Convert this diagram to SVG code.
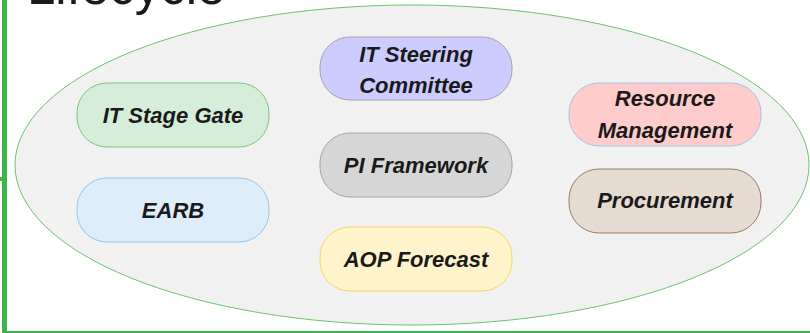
<svg xmlns="http://www.w3.org/2000/svg" width="810" height="333" viewBox="0 0 810 333">
<style>
.node rect{stroke-width:1}
.lbl{font-family:"Liberation Sans",Arial,sans-serif;font-weight:bold;font-style:italic;font-size:22px;fill:#1a1a1a;text-anchor:middle}
</style>
<rect width="810" height="333" fill="#ffffff"/>
<g id="frame">
<rect x="2" y="0" width="5" height="333" fill="#3cb44b"/>
<rect x="2" y="331" width="808" height="2" fill="#3cb44b"/>
<rect x="0" y="177" width="3" height="4" fill="#3cb44b"/>
<text x="27" y="4" font-family="Liberation Sans,Arial,sans-serif" font-size="51" fill="#1a1a1a">Lifecycle</text>
</g>
<g id="lifecycle-ellipse">
<ellipse cx="412" cy="165" rx="397" ry="160" fill="#f1f1f1" stroke="#6cc46c" stroke-width="1"/>
</g>
<g id="connectors"></g>
<g id="it-steering" class="node">
<rect x="320" y="37" width="192" height="63" rx="30" fill="#ccccff" stroke="#a6a6a6"/>
<text class="lbl" x="416" y="62">IT Steering</text>
<text class="lbl" x="416" y="93">Committee</text>
</g>
<g id="it-stage-gate" class="node">
<rect x="77" y="83" width="192" height="64" rx="30" fill="#d5eed9" stroke="#7cc67f"/>
<text class="lbl" x="173" y="123">IT Stage Gate</text>
</g>
<g id="earb" class="node">
<rect x="77" y="178" width="192" height="64" rx="30" fill="#deedfa" stroke="#92c6ee"/>
<text class="lbl" x="173" y="218">EARB</text>
</g>
<g id="pi-framework" class="node">
<rect x="320" y="133" width="192" height="64" rx="30" fill="#d6d6d6" stroke="#a6a6a6"/>
<text class="lbl" x="416" y="173">PI Framework</text>
</g>
<g id="aop-forecast" class="node">
<rect x="320" y="227" width="192" height="64" rx="30" fill="#fff3cc" stroke="#f5d55a"/>
<text class="lbl" x="416" y="267">AOP Forecast</text>
</g>
<g id="resource-management" class="node">
<rect x="569" y="83" width="192" height="63" rx="30" fill="#ffcccc" stroke="#9ec7ec"/>
<text class="lbl" x="665" y="106">Resource</text>
<text class="lbl" x="665" y="138">Management</text>
</g>
<g id="procurement" class="node">
<rect x="569" y="169" width="192" height="64" rx="30" fill="#e6dbd1" stroke="#9a7b6a"/>
<text class="lbl" x="665" y="208">Procurement</text>
</g>
</svg>
